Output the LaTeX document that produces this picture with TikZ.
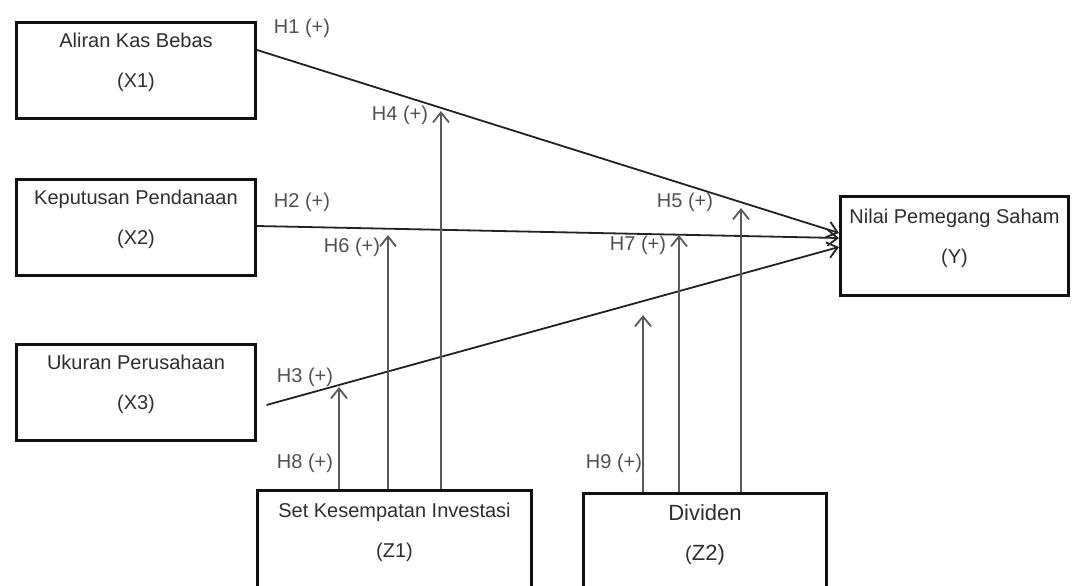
\documentclass[tikz,border=0pt]{standalone}
\usepackage{fontspec}
\setmainfont{Liberation Sans}
\usepackage{tikz}
\usetikzlibrary{arrows.meta}
\definecolor{boxline}{HTML}{111111}
\definecolor{boxtext}{HTML}{2E2E2E}
\definecolor{labgray}{HTML}{505050}
\definecolor{linedark}{HTML}{222222}
\definecolor{linegray}{HTML}{5A5A5A}
\newcommand{\vartext}[2]{\raisebox{3.75pt}[\height][\depth]{\begin{tabular}{@{}c@{}}#1\\[8pt](#2)\end{tabular}}}

\begin{document}
\begin{tikzpicture}[x=0.5pt, y=-0.5pt, >={Straight Barb[length=5pt,width=8pt]},
 var/.style={draw=boxline, line width=1.5pt, minimum width=119.5pt, minimum height=48pt, inner sep=0pt, text=boxtext, font=\fontsize{10}{12}\selectfont},
 lab/.style={text=labgray, inner sep=1pt, font=\fontsize{10}{12}\selectfont},
 effect/.style={->, draw=linedark, line width=0.9pt},
 moder/.style={->, draw=linegray, line width=0.9pt}]
\clip (0,0) rectangle (1073,585);
\node[var] (x1) at (136,70.5)  {\vartext{Aliran Kas Bebas}{X1}};
\node[var] (x2) at (136,227.5) {\vartext{Keputusan Pendanaan}{X2}};
\node[var] (x3) at (136,392.5) {\vartext{Ukuran Perusahaan}{X3}};
\node[var, minimum width=114pt, minimum height=49.5pt] (y) at (954.5,246) {\vartext{Nilai Pemegang Saham}{Y}};
\node[var, minimum width=137pt, minimum height=50pt] (z1) at (394.5,540.5) {\vartext{Set Kesempatan Investasi}{Z1}};
\node[var, minimum width=121.5pt, minimum height=50pt] (z2) at (705,543) {\vartext{\fontsize{11}{13}\selectfont Dividen}{\fontsize{11}{13}\selectfont Z2}};
% direct effects
\draw[effect] ([yshift=10.25pt]x1.east) -- ([yshift=6.5pt]y.west);
\draw[effect] ([yshift=0.75pt]x2.east) -- ([yshift=4pt]y.west);
\draw[effect] ([xshift=4.75pt,yshift=-6.25pt]x2.east |- x3.east) -- ([yshift=-0.5pt]y.west);
% moderating effects
\foreach \n/\x/\y in {h8/339/387, h6/388/235, h4/441/111, h9/643/315, h7/679/235, h5/741/208}
  \coordinate (\n) at (\x,\y);
\foreach \n in {h8,h6,h4}
  \draw[moder] (z1.north -| \n) -- (\n);
\foreach \n in {h9,h7,h5}
  \draw[moder] (z2.north -| \n) -- (\n);
\node[lab] (l1) at (302,28)  {H1 (+)};
\node[lab] (l2) at (302,202) {H2 (+)};
\node[lab] (l3) at (305,377) {H3 (+)};
\node[lab] (l4) at (400,115) {H4 (+)};
\node[lab] (l5) at (685,202) {H5 (+)};
\node[lab] (l6) at (352,247) {H6 (+)};
\node[lab] (l7) at (638,245) {H7 (+)};
\node[lab] (l8) at (305,463) {H8 (+)};
\node[lab] (l9) at (614,463) {H9 (+)};
\end{tikzpicture}
\end{document}
